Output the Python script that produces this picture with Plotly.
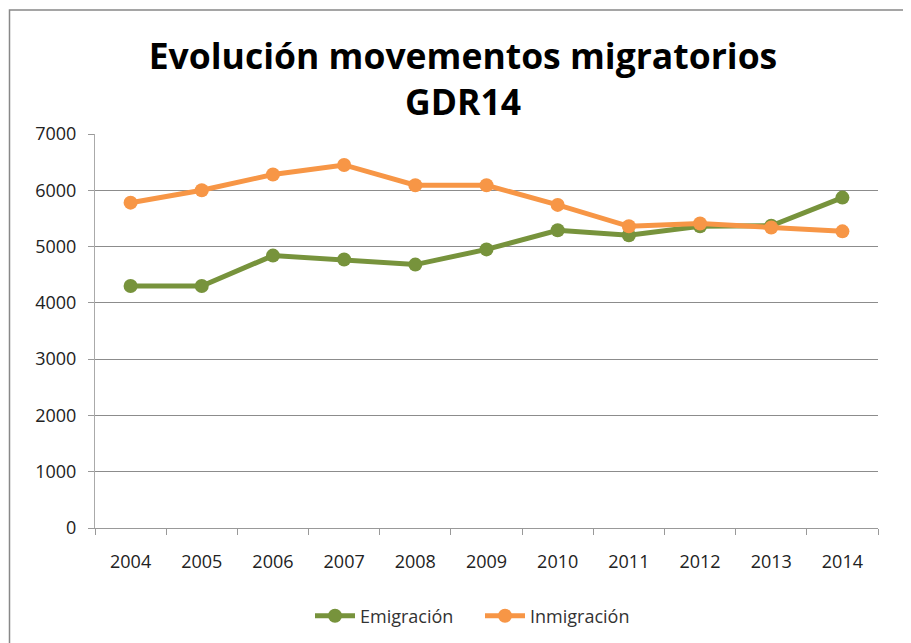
import plotly.graph_objects as go

years = ["2004", "2005", "2006", "2007", "2008", "2009", "2010", "2011", "2012", "2013", "2014"]
emigracion = [4300, 4300, 4840, 4770, 4680, 4950, 5290, 5200, 5360, 5370, 5870]
inmigracion = [5780, 6000, 6280, 6450, 6090, 6090, 5740, 5360, 5410, 5340, 5270]
y_ticks = [0, 1000, 2000, 3000, 4000, 5000, 6000, 7000]

# screen geometry (page has 8px body margin)
OFF = 8
W, H = 911, 643
L, R, T, B = 95, 33, 134, 115   # desired screen plot area edges
ml, mr, mt, mb = L - OFF, R + OFF, T - OFF, B + OFF
pw, ph = W - ml - mr, H - mt - mb

def px_x(p):
    return (p - L) / pw

def px_y(p):
    return (T + ph - p) / ph

FONT = "Open Sans"

fig = go.Figure()
fig.add_trace(go.Scatter(x=years, y=emigracion, name="Emigración", mode="lines+markers",
                         line=dict(color="#77933C", width=5),
                         marker=dict(color="#77933C", size=14)))
fig.add_trace(go.Scatter(x=years, y=inmigracion, name="Inmigración", mode="lines+markers",
                         line=dict(color="#F79646", width=5),
                         marker=dict(color="#F79646", size=14)))

fig.update_layout(
    width=W, height=H,
    margin=dict(l=ml, r=mr, t=mt, b=mb),
    paper_bgcolor="white", plot_bgcolor="white",
    font=dict(family=FONT, color="#222222", size=18),
    title=dict(text="<b>Evolución movementos migratorios<br>GDR14</b>",
               x=(463 - OFF) / W, xanchor="center", y=1 - 61 / H, yanchor="top",
               font=dict(family=FONT, size=35.5, color="black")),
    showlegend=True,
    legend=dict(orientation="h", x=px_x(480), xanchor="center", y=px_y(616), yanchor="middle",
                font=dict(family=FONT, size=18, color="#333333"), itemwidth=40,
                entrywidth=115),
    xaxis=dict(type="category", range=[-0.5, 10.5], showgrid=False, showline=True,
               linecolor="#999999", linewidth=1, ticks="outside", tickson="boundaries",
               ticklen=6, tickcolor="#999999", tickfont=dict(size=18, color="#222222"),
               ticklabelstandoff=17, fixedrange=True),
    yaxis=dict(range=[0, 7000], tickvals=y_ticks, showgrid=True, gridcolor="#8c8c8c",
               gridwidth=1, showline=True, linecolor="#aaaaaa", linewidth=1,
               ticks="outside", ticklen=6, tickcolor="#999999",
               tickfont=dict(size=18, color="#222222"), zeroline=False,
               ticklabelstandoff=8, fixedrange=True),
    shapes=[dict(type="rect", xref="paper", yref="paper",
                 x0=px_x(9.5), x1=px_x(940), y0=px_y(700), y1=px_y(10),
                 line=dict(color="#888888", width=1.5), fillcolor="rgba(0,0,0,0)", layer="below")],
)

fig.write_html("out.html")
